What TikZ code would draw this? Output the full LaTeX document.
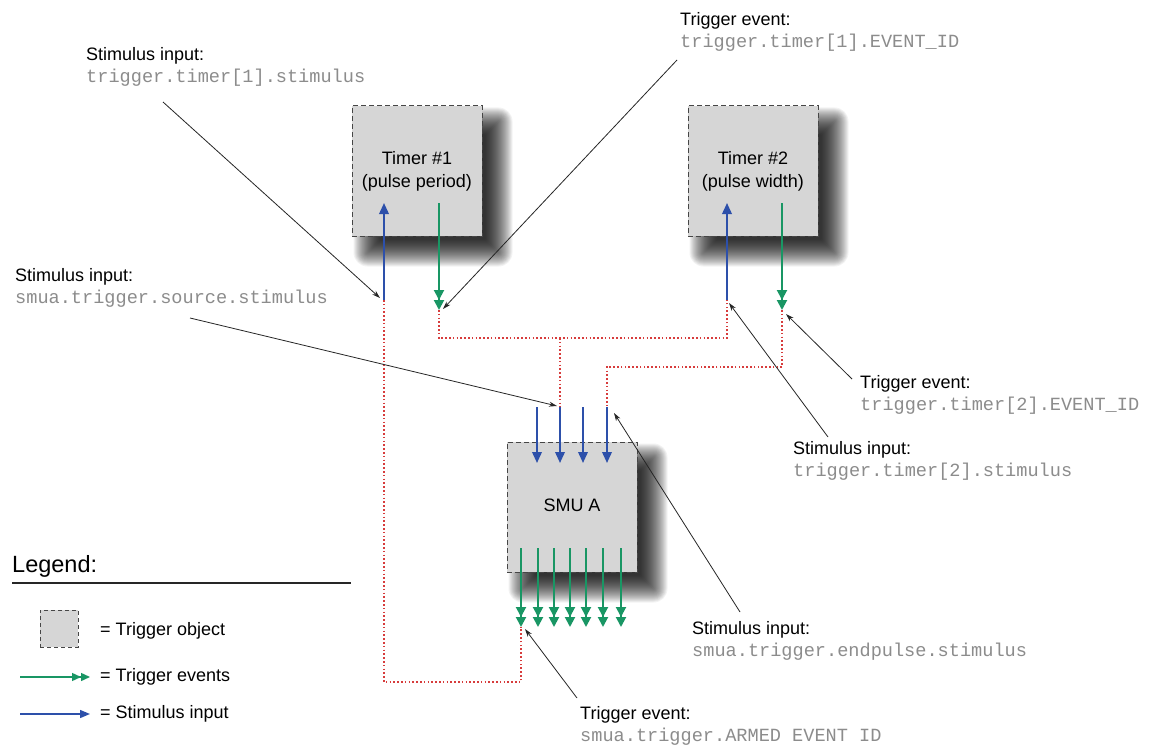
\documentclass[tikz,border=0pt]{standalone}
\usepackage{fontspec}
\setmainfont{Liberation Sans}
\setmonofont{Liberation Mono}
\usetikzlibrary{arrows.meta,backgrounds}
\pgfdeclarelayer{paper}
\pgfsetlayers{paper,background,main}
\definecolor{sblue}{RGB}{45,80,170}
\definecolor{sgreen}{RGB}{25,150,100}
\definecolor{sred}{RGB}{215,60,60}
\definecolor{boxgray}{RGB}{214,214,214}
\definecolor{codegray}{RGB}{140,140,140}
\definecolor{edgegray}{RGB}{70,70,70}
\newcommand\mylab[2]{#1\\{\color{codegray}\fontsize{18.6bp}{22bp}\selectfont\ttfamily #2}}
% soft drop shadow behind a named node
\newcommand\softshadow[1]{%
  \foreach \k in {0,...,27}{%
    \pgfmathsetmacro\rr{max(14-\k,1)}%
    \fill[black, opacity=0.05, rounded corners=\rr bp]
      ([shift={(2+\k,2+\k)}]#1.north west) rectangle ([shift={(30-\k,30-\k)}]#1.south east);
  }}
\tikzset{
  trigobj/.style={draw=edgegray, dash pattern=on 5bp off 3bp, fill=boxgray, line width=1bp,
    minimum width=130bp, minimum height=130bp, inner sep=0, align=center,
    font=\fontsize{18bp}{23bp}\selectfont},
  legbox/.style={draw=edgegray, dash pattern=on 4bp off 3bp, fill=boxgray, line width=1bp,
    minimum width=38bp, minimum height=37bp, inner sep=0},
  stim/.style={sblue, line width=2bp, -{Triangle[length=11bp,width=9.5bp]}},
  trig/.style={sgreen, line width=2bp, -{Triangle[length=10bp,width=10bp]Triangle[length=10bp,width=10bp]}},
  call/.style={black!85, line width=0.8bp, -{Stealth[length=8bp,width=5bp]}},
  dots/.style={sred, line width=1.6bp, dash pattern=on 1.6bp off 2.2bp},
  lbl/.style={anchor=west, align=left, inner sep=0, font=\fontsize{18bp}{22bp}\selectfont},
}
\begin{document}
\begin{tikzpicture}[x=1bp,y=-1bp]
\begin{pgfonlayer}{paper}
\fill[white] (0,0) rectangle (1149,746);
\end{pgfonlayer}
\useasboundingbox (0,0) rectangle (1149,746);

% trigger objects
\node[trigobj] (t1) at (417,171) {Timer \#1\\(pulse period)};
\node[trigobj] (t2) at (753,171) {Timer \#2\\(pulse width)};
\node[trigobj] (smu) at (572,507) {\raisebox{3bp}{SMU A}};
\begin{scope}[on background layer]
  \softshadow{t1}
  \softshadow{t2}
  \softshadow{smu}
\end{scope}

% timer ports
\coordinate (t1in) at (384,300);  \coordinate (t1stim) at (384,203);
\coordinate (t1src) at (439,203); \coordinate (t1out) at (439,310);
\coordinate (t2in) at (727,300);  \coordinate (t2stim) at (727,203);
\coordinate (t2src) at (782,203); \coordinate (t2out) at (782,310);
\draw[stim] (t1in) -- (t1stim);
\draw[trig] (t1src) -- (t1out);
\draw[stim] (t2in) -- (t2stim);
\draw[trig] (t2src) -- (t2out);

% SMU inputs
\foreach \i/\x in {1/537,2/560,3/583,4/607}{
  \coordinate (s\i in) at (\x,407);
  \coordinate (s\i tip) at (\x,463);
  \draw[stim] (s\i in) -- (s\i tip);
}
% SMU outputs
\foreach \i/\x in {1/521,2/538,3/554,4/570,5/586,6/603,7/621}{
  \coordinate (a\i src) at (\x,548);
  \coordinate (a\i out) at (\x,627);
  \draw[trig] (a\i src) -- (a\i out);
}

% dotted connections
\coordinate (j1) at (560,338);
\coordinate (j2) at (607,367);
\coordinate (j3) at (521,682);
\draw[dots] (t1out) |- (j1) -| (t2in);
\draw[dots] (j1) -- (s2in);
\draw[dots] (t2out) |- (j2) -- (s4in);
\draw[dots] (t1in) |- (j3) -- (a1out);

% labels
\node[lbl] (L1) at (86,67) {\mylab{Stimulus input:}{trigger.timer[1].stimulus}};
\node[lbl] (L2) at (680,32) {\mylab{Trigger event:}{trigger.timer[1].EVENT\_ID}};
\node[lbl] (L3) at (15,288) {\mylab{Stimulus input:}{smua.trigger.source.stimulus}};
\node[lbl] (L4) at (860,395) {\mylab{Trigger event:}{trigger.timer[2].EVENT\_ID}};
\node[lbl] (L5) at (793,461) {\mylab{Stimulus input:}{trigger.timer[2].stimulus}};
\node[lbl] (L6) at (692,641) {\mylab{Stimulus input:}{smua.trigger.endpulse.stimulus}};
\node[lbl] (L7) at (580,726) {\mylab{Trigger event:}{smua.trigger.ARMED EVENT ID}};

% callouts
\coordinate (c1s) at (163,102);  \coordinate (c1e) at (380,298);
\coordinate (c2s) at (677,60);   \coordinate (c2e) at (443,309);
\coordinate (c3s) at (190,318);  \coordinate (c3e) at (557,406);
\coordinate (c4s) at (852,379);  \coordinate (c4e) at (786,314);
\coordinate (c5s) at (828,437);  \coordinate (c5e) at (729,303);
\coordinate (c6s) at (740,612);  \coordinate (c6e) at (614,413);
\coordinate (c7s) at (577,698);  \coordinate (c7e) at (525,629);
\foreach \k in {1,...,7}{\draw[call] (c\k s) -- (c\k e);}

% legend
\node[anchor=west, inner sep=0, font=\fontsize{23.5bp}{26bp}\selectfont] (lg) at (12,566) {Legend:};
\coordinate (lgl) at (12,583); \coordinate (lgr) at (351,583);
\draw[line width=1.6bp, black!85] (lgl) -- (lgr);
\node[legbox] (lbox) at (59,628.5) {};
\node[lbl] (lt1) at (100,631) {= Trigger object};
\coordinate (lga) at (20,677); \coordinate (lgb) at (90,677);
\draw[sgreen, line width=1.4bp, -{Triangle[length=9bp,width=8bp]Triangle[length=9bp,width=8bp]}] (lga) -- (lgb);
\node[lbl] (lt2) at (100,677) {= Trigger events};
\coordinate (lba) at (20,714); \coordinate (lbb) at (90,714);
\draw[sblue, line width=1.4bp, -{Triangle[length=10bp,width=8bp]}] (lba) -- (lbb);
\node[lbl] (lt3) at (100,714) {= Stimulus input};
\end{tikzpicture}
\end{document}
